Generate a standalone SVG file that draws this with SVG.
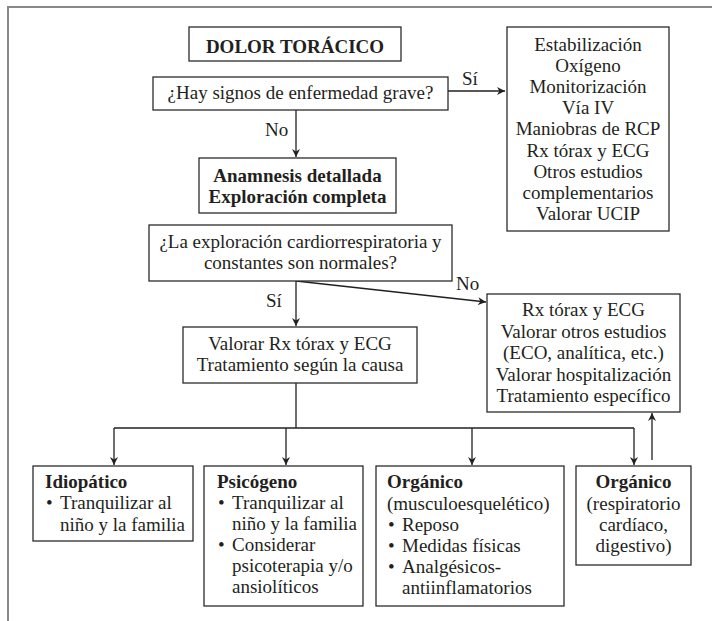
<svg xmlns="http://www.w3.org/2000/svg" width="712" height="621" viewBox="0 0 712 621">
<defs>
<style>
.t{font-family:"Liberation Serif","Times New Roman",serif;font-size:19px;fill:#231f20}
.b{font-weight:bold}
.m{text-anchor:middle}
.box{fill:#fff;stroke:#2b2b2b;stroke-width:1.3}
.ln{fill:none;stroke:#231f20;stroke-width:1.3}
</style>
<marker id="ah" viewBox="0 0 10 10" refX="10" refY="5" markerWidth="8" markerHeight="8" markerUnits="userSpaceOnUse" orient="auto">
<path d="M0,0 L10,5 L0,10 L3,5 Z" fill="#231f20"/>
</marker>
</defs>
<rect width="712" height="621" fill="#fff"/>
<path d="M8,621 V7 H712" fill="none" stroke="#888" stroke-width="2"/>

<g id="connectors">
<line class="ln" x1="448" y1="91" x2="505" y2="91" marker-end="url(#ah)"/>
<text class="t" x="462" y="85">Sí</text>
<line class="ln" x1="296" y1="110" x2="296" y2="157" marker-end="url(#ah)"/>
<text class="t" x="265" y="136">No</text>
<line class="ln" x1="296" y1="281" x2="296" y2="326" marker-end="url(#ah)"/>
<text class="t" x="266" y="307">Sí</text>
<line class="ln" x1="296" y1="281" x2="486" y2="302" marker-end="url(#ah)"/>
<text class="t" x="456" y="290">No</text>
<path class="ln" d="M296,383 V428"/>
<path class="ln" d="M114,428 H634"/>
<line class="ln" x1="114" y1="428" x2="114" y2="465" marker-end="url(#ah)"/>
<line class="ln" x1="286" y1="428" x2="286" y2="465" marker-end="url(#ah)"/>
<line class="ln" x1="472" y1="428" x2="472" y2="465" marker-end="url(#ah)"/>
<line class="ln" x1="634" y1="428" x2="634" y2="465" marker-end="url(#ah)"/>
<line class="ln" x1="652" y1="460" x2="652" y2="413" marker-end="url(#ah)"/>
</g>

<g id="title">
<rect class="box" x="189" y="27" width="212" height="34"/>
<text class="t b m" x="295" y="53">DOLOR TORÁCICO</text>
</g>

<g id="q1">
<rect class="box" x="153" y="77" width="295" height="33"/>
<text class="t m" x="300.5" y="99">¿Hay signos de enfermedad grave?</text>
</g>

<g id="grave">
<rect class="box" x="507" y="27" width="162" height="204"/>
<text class="t m" x="588" y="51">Estabilización</text>
<text class="t m" x="588" y="72">Oxígeno</text>
<text class="t m" x="588" y="93">Monitorización</text>
<text class="t m" x="588" y="114">Vía IV</text>
<text class="t m" x="588" y="135">Maniobras de RCP</text>
<text class="t m" x="588" y="157">Rx tórax y ECG</text>
<text class="t m" x="588" y="178">Otros estudios</text>
<text class="t m" x="588" y="199">complementarios</text>
<text class="t m" x="588" y="220">Valorar UCIP</text>
</g>

<g id="anamnesis">
<rect class="box" x="199" y="158" width="197" height="55"/>
<text class="t b m" x="297.5" y="182">Anamnesis detallada</text>
<text class="t b m" x="297.5" y="203">Exploración completa</text>
</g>

<g id="q2">
<rect class="box" x="149" y="225" width="303" height="56"/>
<text class="t m" x="300.5" y="248">¿La exploración cardiorrespiratoria y</text>
<text class="t m" x="300.5" y="269">constantes son normales?</text>
</g>

<g id="valorar">
<rect class="box" x="183" y="327" width="234" height="56"/>
<text class="t m" x="300" y="350">Valorar Rx tórax y ECG</text>
<text class="t m" x="300" y="371">Tratamiento según la causa</text>
</g>

<g id="anormal">
<rect class="box" x="487" y="294" width="193" height="118"/>
<text class="t m" x="583.5" y="316">Rx tórax y ECG</text>
<text class="t m" x="583.5" y="338">Valorar otros estudios</text>
<text class="t m" x="583.5" y="359">(ECO, analítica, etc.)</text>
<text class="t m" x="583.5" y="381">Valorar hospitalización</text>
<text class="t m" x="583.5" y="402">Tratamiento específico</text>
</g>

<g id="idiopatico">
<rect class="box" x="33" y="466" width="160" height="75"/>
<text class="t b" x="45" y="488">Idiopático</text>
<text class="t" x="46" y="509">•</text>
<text class="t" x="60" y="509">Tranquilizar al</text>
<text class="t" x="60" y="531">niño y la familia</text>
</g>

<g id="psicogeno">
<rect class="box" x="204" y="466" width="159" height="140"/>
<text class="t b" x="217" y="488">Psicógeno</text>
<text class="t" x="218" y="509">•</text>
<text class="t" x="232" y="509">Tranquilizar al</text>
<text class="t" x="232" y="530">niño y la familia</text>
<text class="t" x="218" y="551">•</text>
<text class="t" x="232" y="551">Considerar</text>
<text class="t" x="232" y="572">psicoterapia y/o</text>
<text class="t" x="232" y="593">ansiolíticos</text>
</g>

<g id="musculo">
<rect class="box" x="376" y="466" width="188" height="140"/>
<text class="t b" x="387" y="488">Orgánico</text>
<text class="t" x="387" y="510">(musculoesquelético)</text>
<text class="t" x="388" y="531">•</text>
<text class="t" x="402" y="531">Reposo</text>
<text class="t" x="388" y="552">•</text>
<text class="t" x="402" y="552">Medidas físicas</text>
<text class="t" x="388" y="573">•</text>
<text class="t" x="402" y="573">Analgésicos-</text>
<text class="t" x="402" y="594">antiinflamatorios</text>
</g>

<g id="organico">
<rect class="box" x="576" y="466" width="115" height="99"/>
<text class="t b m" x="633.5" y="488">Orgánico</text>
<text class="t m" x="633.5" y="510">(respiratorio</text>
<text class="t m" x="633.5" y="531">cardíaco,</text>
<text class="t m" x="633.5" y="552">digestivo)</text>
</g>
</svg>
